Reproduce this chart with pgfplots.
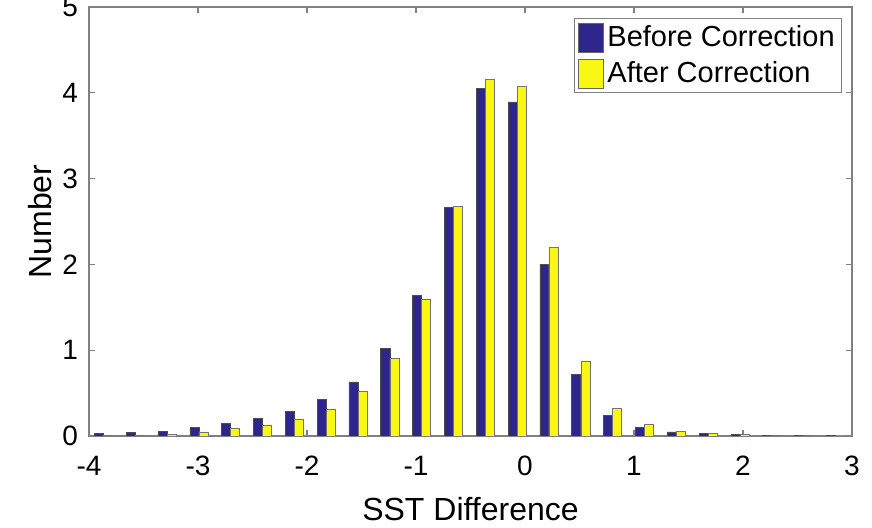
\documentclass[border=0pt]{standalone}
\usepackage{fontspec}
\setmainfont{Liberation Sans}
\usepackage{pgfplots}
\pgfplotsset{compat=1.18}
\usetikzlibrary{calc}

\definecolor{before}{RGB}{46,38,140}
\definecolor{after}{RGB}{248,248,20}
\definecolor{axgray}{RGB}{128,128,128}

\pgfplotstableread{
x       before  after
-3.868  0.027   0.005
-3.576  0.040   0.010
-3.284  0.050   0.015
-2.992  0.097   0.047
-2.700  0.148   0.090
-2.408  0.206   0.128
-2.116  0.290   0.200
-1.824  0.430   0.310
-1.532  0.630   0.520
-1.240  1.018   0.906
-0.948  1.640   1.590
-0.656  2.660   2.680
-0.364  4.055   4.160
-0.072  3.895   4.080
 0.220  2.000   2.200
 0.512  0.720   0.875
 0.804  0.240   0.326
 1.096  0.100   0.136
 1.388  0.047   0.058
 1.680  0.030   0.030
 1.972  0.020   0.015
 2.264  0.005   0.005
 2.556  0.003   0.003
 2.848  0.003   0.002
}\sstdata

\begin{document}
\begin{tikzpicture}
\begin{axis}[
    scale only axis,
    width=381.5pt, height=214.5pt,
    xmin=-4, xmax=3, ymin=0, ymax=5,
    xtick={-4,...,3}, ytick={0,...,5},
    ybar=0pt, bar width=0.083,
    tick align=inside, major tick length=3pt,
    axis line style={axgray, line width=0.6pt},
    every tick/.style={axgray, line width=0.6pt},
    tick label style={font=\fontsize{14}{16}\selectfont},
    /pgf/number format/assume math mode=true,
    xticklabel style={yshift=-6.5pt},
    yticklabel style={xshift=-2pt},
    xlabel={SST Difference}, ylabel={Number},
    label style={font=\fontsize{16}{18}\selectfont},
    xlabel style={at={(0.5,-0.17)}, anchor=center},
    ylabel style={at={(-0.064,0.5)}, anchor=center},
    legend style={at={(0.987,0.974)}, anchor=north east, draw=axgray,
        font=\fontsize{14.5}{16}\selectfont, inner xsep=1.5pt, inner ysep=1.5pt,
        row sep=2pt, cells={anchor=west}},
    legend image code/.code={
        \draw[#1, draw=black!60] (0pt,-7.25pt) rectangle (12.5pt,7.25pt);},
]
\addplot[fill=before, draw=black!70, line width=0.3pt] table[x=x, y=before] {\sstdata};
\addplot[fill=after, draw=black!55, line width=0.3pt] table[x=x, y=after] {\sstdata};
\legend{Before Correction, After Correction}
\end{axis}
\pgfresetboundingbox
\path[use as bounding box] ($(current axis.south west)+(-44.5pt,-46pt)$) rectangle ($(current axis.north east)+(10pt,3.5pt)$);
\end{tikzpicture}
\end{document}
